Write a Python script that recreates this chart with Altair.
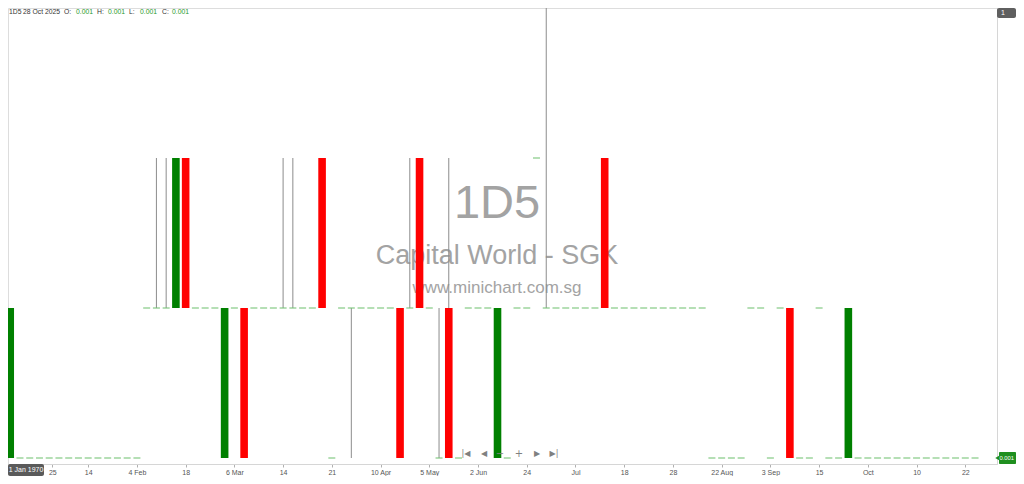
import altair as alt
import pandas as pd

# Daily candles for 1D5 (Capital World - SGK), prices in units of 0.001 SGD, left to right
open_milli = [
    1, 1, 1, 1, 1, 1, 1, 1, 1, 1,
    1, 1, 1, 1, 2, 2, 2, 2, 3, 2,
    2, 2, 1, 2, 2, 2, 2, 2, 2, 2,
    2, 2, 3, 1, 2, 2, 2, 2, 2, 2,
    2, 2, 3, 2, 1, 2, 1, 2, 2, 2,
    1, 1, 2, 2, 3, 2, 2, 2, 2, 2,
    2, 3, 2, 2, 2, 2, 2, 2, 2, 2,
    2, 2, 1, 1, 1, 1, 2, 2, 1, 2,
    2, 1, 1, 2, 1, 1, 1, 1, 1, 1,
    1, 1, 1, 1, 1, 1, 1, 1, 1, 1,
]
high_milli = [
    2, 1, 1, 1, 1, 1, 1, 1, 1, 1,
    1, 1, 1, 1, 2, 3, 3, 3, 3, 2,
    2, 2, 2, 2, 2, 2, 2, 2, 3, 3,
    2, 2, 3, 1, 2, 2, 2, 2, 2, 2,
    2, 3, 3, 2, 2, 3, 1, 2, 2, 2,
    2, 1, 2, 2, 3, 4, 2, 2, 2, 2,
    2, 3, 2, 2, 2, 2, 2, 2, 2, 2,
    2, 2, 1, 1, 1, 1, 2, 2, 1, 2,
    2, 1, 1, 2, 1, 1, 2, 1, 1, 1,
    1, 1, 1, 1, 1, 1, 1, 1, 1, 1,
]
low_milli = [
    1, 1, 1, 1, 1, 1, 1, 1, 1, 1,
    1, 1, 1, 1, 2, 2, 2, 2, 2, 2,
    2, 2, 1, 2, 1, 2, 2, 2, 2, 2,
    2, 2, 2, 1, 2, 1, 2, 2, 2, 2,
    1, 2, 2, 2, 1, 1, 1, 2, 2, 2,
    1, 1, 2, 2, 3, 2, 2, 2, 2, 2,
    2, 2, 2, 2, 2, 2, 2, 2, 2, 2,
    2, 2, 1, 1, 1, 1, 2, 2, 1, 2,
    1, 1, 1, 2, 1, 1, 1, 1, 1, 1,
    1, 1, 1, 1, 1, 1, 1, 1, 1, 1,
]
close_milli = [
    2, 1, 1, 1, 1, 1, 1, 1, 1, 1,
    1, 1, 1, 1, 2, 2, 2, 3, 2, 2,
    2, 2, 2, 2, 1, 2, 2, 2, 2, 2,
    2, 2, 2, 1, 2, 2, 2, 2, 2, 2,
    1, 2, 2, 2, 1, 1, 1, 2, 2, 2,
    2, 1, 2, 2, 3, 2, 2, 2, 2, 2,
    2, 2, 2, 2, 2, 2, 2, 2, 2, 2,
    2, 2, 1, 1, 1, 1, 2, 2, 1, 2,
    1, 1, 1, 2, 1, 1, 2, 1, 1, 1,
    1, 1, 1, 1, 1, 1, 1, 1, 1, 1,
]

# x-axis date labels at candle positions
tick_index = [4.32, 8, 13, 18, 23, 28, 33, 38, 43, 48, 53, 58, 63, 68, 73, 78, 83, 88, 93, 98]
tick_labels = ["25", "14", "4 Feb", "18", "6 Mar", "14", "21", "10 Apr", "5 May", "2 Jun",
               "24", "Jul", "18", "28", "22 Aug", "3 Sep", "15", "Oct", "10", "22"]

PLOT_W, PLOT_H = 989, 456

candles = pd.DataFrame({
    "i": list(range(len(open_milli))),
    "o": [v / 1000 for v in open_milli],
    "h": [v / 1000 for v in high_milli],
    "l": [v / 1000 for v in low_milli],
    "c": [v / 1000 for v in close_milli],
})
candles["kind"] = [
    "up" if c > o else ("down" if c < o else "flat")
    for o, c in zip(candles["o"], candles["c"])
]

label_expr = "[" + ",".join("'" + t + "'" for t in tick_labels) + "][indexof([" + \
    ",".join(str(v) for v in tick_index) + "], datum.value)]"

x_enc = alt.X(
    "i:Q",
    scale=alt.Scale(domain=[0.2844, 100.74], nice=False, zero=False),
    axis=alt.Axis(
        values=tick_index, labelExpr=label_expr, title=None, grid=False,
        domainColor="#d6d6d6", tickColor="#b0b0b0", tickSize=3,
        labelColor="#555555", labelFontSize=7, labelFont="Liberation Sans",
        labelPadding=1.5, labelOverlap=False, labelFlush=False,
    ),
)
y_scale = alt.Scale(domain=[0.00096, 0.004], nice=False, zero=False)
y_axis = alt.Axis(orient="right", labels=False, ticks=False, grid=False,
                  title=None, domainColor="#d6d6d6")

base = alt.Chart(candles)

wicks = base.mark_rule(color="#8c8c8c", strokeWidth=1).encode(
    x=x_enc,
    y=alt.Y("l:Q", scale=y_scale, axis=y_axis),
    y2="h:Q",
)
flats = base.transform_filter("datum.kind == 'flat'").mark_tick(
    orient="horizontal", size=7, thickness=1.5, color="#74c274"
).encode(
    x=x_enc,
    y=alt.Y("c:Q", scale=y_scale, axis=y_axis),
)
bodies = base.transform_filter("datum.kind != 'flat'").mark_bar(
    orient="vertical", size=7.6
).encode(
    x=x_enc,
    y=alt.Y("o:Q", scale=y_scale, axis=y_axis),
    y2="c:Q",
    color=alt.Color("kind:N", scale=alt.Scale(domain=["up", "down"],
                                              range=["#008000", "#ff0000"]), legend=None),
)


def label(text, px, py, size, color, align="left", baseline="middle",
          font="Liberation Sans"):
    return alt.Chart(pd.DataFrame({"t": [text]})).mark_text(
        align=align, baseline=baseline, fontSize=size, font=font, color=color
    ).encode(x=alt.value(px), y=alt.value(py), text="t:N")


def box(x1, x2, y1, y2, color, radius=2):
    return alt.Chart(pd.DataFrame({"a": [0]})).mark_rect(
        color=color, cornerRadius=radius
    ).encode(x=alt.value(x1), x2=alt.value(x2), y=alt.value(y1), y2=alt.value(y2))


wm_color = "#a3a3a3"
watermark = [
    label("1D5", 489, 210, 47, wm_color, align="center", baseline="alphabetic"),
    label("Capital World - SGK", 489, 256, 27, wm_color, align="center", baseline="alphabetic"),
    label("www.minichart.com.sg", 489, 285, 17, wm_color, align="center", baseline="alphabetic"),
]

hdr_dark = "#333333"
hdr_green = "#2a9a2a"
header = [
    label("1D5", 1, 4, 6.8, hdr_dark),
    label("28 Oct 2025", 15, 4, 6.8, hdr_dark),
    label("O:", 56, 4, 6.8, hdr_dark),
    label("0.001", 68, 4, 6.8, hdr_green),
    label("H:", 89, 4, 6.8, hdr_dark),
    label("0.001", 100, 4, 6.8, hdr_green),
    label("L:", 121, 4, 6.8, hdr_dark),
    label("0.001", 132, 4, 6.8, hdr_green),
    label("C:", 154, 4, 6.8, hdr_dark),
    label("0.001", 164, 4, 6.8, hdr_green),
]

nav_color = "#808080"
nav_y = 446
nav = [
    label("|◀", 458, nav_y, 8, nav_color, align="center", font="DejaVu Sans"),
    label("◀", 476, nav_y, 8, nav_color, align="center", font="DejaVu Sans"),
    label("−", 492, nav_y, 10, nav_color, align="center", font="DejaVu Sans"),
    label("+", 511, nav_y, 10, nav_color, align="center", font="DejaVu Sans"),
    label("▶", 529, nav_y, 8, nav_color, align="center", font="DejaVu Sans"),
    label("▶|", 546, nav_y, 8, nav_color, align="center", font="DejaVu Sans"),
]

price_tag_green = "#1f8f1f"
tags = [
    box(989, 1008, 0, 10, "#5f5f5f"),
    label("1", 993, 5, 7, "#ffffff"),
    box(991, 1008, 444, 456, price_tag_green, radius=1),
    alt.Chart(pd.DataFrame({"a": [0]})).mark_point(
        shape="triangle-left", filled=True, size=40, color=price_tag_green, opacity=1
    ).encode(x=alt.value(990), y=alt.value(450)),
    label("0.001", 991.5, 450, 5.8, "#ffffff"),
    box(0, 36, 456, 468, "#5a5a5a"),
    label("1 Jan 1970", 18, 462, 7, "#ffffff", align="center"),
]

chart = alt.layer(
    *watermark, wicks, flats, bodies, *header, *nav, *tags
).properties(
    width=PLOT_W, height=PLOT_H,
    autosize=alt.AutoSizeParams(type="none"),
    padding={"left": 0, "top": 0, "right": 19, "bottom": 12},
).configure_view(
    stroke="#b5b5b5", strokeDash=[1, 1.5], strokeWidth=1
).configure(background="#ffffff")

chart.save("out.html", embed_options={"renderer": "svg", "actions": False})
